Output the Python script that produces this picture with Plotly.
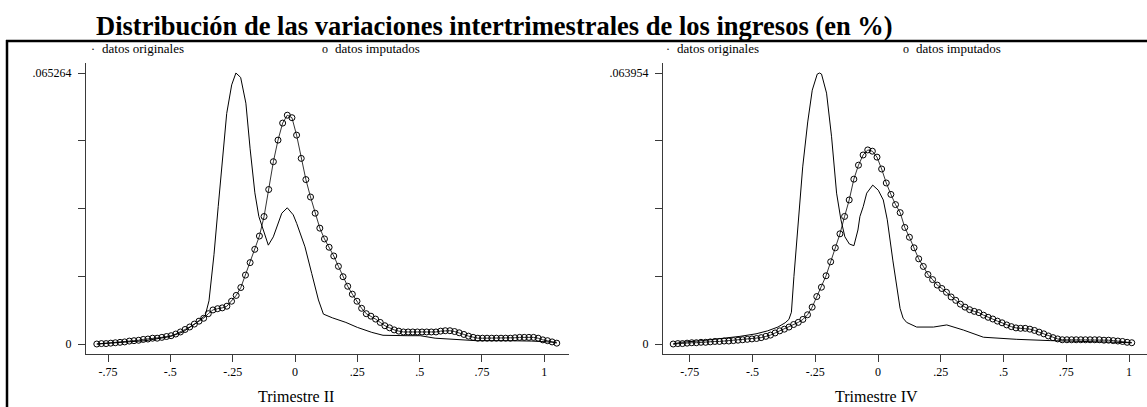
import numpy as np
import plotly.graph_objects as go

W, H = 1147, 407
SERIF = "Liberation Serif, Times New Roman, serif"

# Kernel density of quarter-on-quarter income changes (share, not %)
# --- Trimestre II ---
t2_max = 0.065264
t2_imp_range = (-0.795, 1.050)          # evaluation grid limits, 100 points
t2_imp = [0.0000, 0.0001, 0.0001, 0.0002, 0.0003, 0.0004, 0.0005, 0.0007, 0.0008, 0.0009,
          0.0011, 0.0012, 0.0014, 0.0014, 0.0016, 0.0018, 0.0020, 0.0024, 0.0029, 0.0035,
          0.0041, 0.0048, 0.0055, 0.0062, 0.0073, 0.0082, 0.0085, 0.0087, 0.0091, 0.0103,
          0.0117, 0.0136, 0.0166, 0.0196, 0.0228, 0.0260, 0.0307, 0.0372, 0.0439, 0.0491,
          0.0532, 0.0551, 0.0545, 0.0503, 0.0447, 0.0396, 0.0354, 0.0315, 0.0279, 0.0253,
          0.0233, 0.0212, 0.0187, 0.0162, 0.0139, 0.0120, 0.0103, 0.0086, 0.0073, 0.0067,
          0.0060, 0.0052, 0.0044, 0.0039, 0.0034, 0.0031, 0.0029, 0.0029, 0.0029, 0.0029,
          0.0029, 0.0029, 0.0029, 0.0029, 0.0031, 0.0032, 0.0032, 0.0030, 0.0027, 0.0023,
          0.0019, 0.0016, 0.0014, 0.0014, 0.0014, 0.0014, 0.0014, 0.0014, 0.0014, 0.0014,
          0.0015, 0.0016, 0.0016, 0.0016, 0.0016, 0.0014, 0.0010, 0.0008, 0.0005, 0.0002]
t2_orig_x = [-0.795, -0.70, -0.60, -0.50, -0.45, -0.40, -0.36, -0.345, -0.325, -0.308,
             -0.29, -0.274, -0.254, -0.237, -0.218, -0.197, -0.18, -0.161, -0.145, -0.127,
             -0.107, -0.087, -0.07, -0.053, -0.031, -0.007, 0.007, 0.025, 0.040, 0.067,
             0.094, 0.114, 0.15, 0.204, 0.25, 0.308, 0.353, 0.45, 0.502, 0.562,
             0.65, 0.727, 0.85, 0.95, 1.05]
t2_orig = [0.0000, 0.0004, 0.0008, 0.0018, 0.0029, 0.0049, 0.0069, 0.0104, 0.0215, 0.0331,
           0.0450, 0.0555, 0.0624, 0.065264, 0.0642, 0.0580, 0.0470, 0.0364, 0.0307, 0.0275,
           0.0238, 0.0258, 0.0287, 0.0315, 0.0328, 0.0311, 0.0290, 0.0261, 0.0234, 0.0170,
           0.0106, 0.0072, 0.0063, 0.0052, 0.0040, 0.0028, 0.0021, 0.0020, 0.0020, 0.0014,
           0.0011, 0.0008, 0.0008, 0.0007, 0.0004]

# --- Trimestre IV ---
t4_max = 0.063954
t4_imp_range = (-0.816, 1.011)
t4_imp = [0.0000, 0.0001, 0.0001, 0.0002, 0.0003, 0.0003, 0.0004, 0.0004, 0.0005, 0.0006,
          0.0006, 0.0007, 0.0007, 0.0008, 0.0009, 0.0010, 0.0011, 0.0012, 0.0013, 0.0015,
          0.0018, 0.0021, 0.0026, 0.0031, 0.0035, 0.0040, 0.0046, 0.0051, 0.0058, 0.0069,
          0.0087, 0.0112, 0.0134, 0.0161, 0.0194, 0.0227, 0.0260, 0.0301, 0.0340, 0.0389,
          0.0422, 0.0446, 0.0458, 0.0455, 0.0441, 0.0413, 0.0380, 0.0353, 0.0329, 0.0310,
          0.0275, 0.0252, 0.0227, 0.0201, 0.0183, 0.0164, 0.0152, 0.0139, 0.0131, 0.0122,
          0.0111, 0.0103, 0.0094, 0.0087, 0.0081, 0.0077, 0.0074, 0.0068, 0.0063, 0.0059,
          0.0054, 0.0050, 0.0045, 0.0041, 0.0038, 0.0037, 0.0037, 0.0035, 0.0032, 0.0028,
          0.0024, 0.0019, 0.0015, 0.0012, 0.0010, 0.0010, 0.0010, 0.0010, 0.0010, 0.0010,
          0.0010, 0.0010, 0.0010, 0.0009, 0.0009, 0.0008, 0.0007, 0.0006, 0.0004, 0.0003]
t4_orig_x = [-0.816, -0.784, -0.70, -0.634, -0.55, -0.486, -0.44, -0.399, -0.37, -0.355,
             -0.345, -0.335, -0.318, -0.300, -0.280, -0.262, -0.242, -0.233, -0.225, -0.205,
             -0.185, -0.165, -0.148, -0.132, -0.114, -0.096, -0.08, -0.072, -0.059, -0.045,
             -0.021, 0.001, 0.021, 0.037, 0.059, 0.075, 0.088, 0.100, 0.114, 0.154,
             0.221, 0.274, 0.340, 0.420, 0.553, 0.686, 0.82, 0.92, 1.011]
t4_orig = [0.0000, 0.0004, 0.0008, 0.0012, 0.0018, 0.0024, 0.0031, 0.0040, 0.0050, 0.0058,
           0.0075, 0.0159, 0.0293, 0.0418, 0.0524, 0.0599, 0.0637, 0.063954, 0.0637, 0.0592,
           0.0489, 0.0356, 0.0294, 0.0253, 0.0236, 0.0232, 0.0269, 0.0301, 0.0324, 0.0356,
           0.0375, 0.0363, 0.0340, 0.0293, 0.0198, 0.0135, 0.0084, 0.0061, 0.0051, 0.0040,
           0.0040, 0.0045, 0.0033, 0.0016, 0.0011, 0.0008, 0.0006, 0.0005, 0.0003]

x_ticks = [-0.75, -0.5, -0.25, 0, 0.25, 0.5, 0.75, 1]
x_tick_text = ["-.75", "-.5", "-.25", "0", ".25", ".5", ".75", "1"]
panel_titles = ["Trimestre II", "Trimestre IV"]
legend_labels = ["datos originales", "datos imputados"]
title = "Distribución de las variaciones intertrimestrales de los ingresos (en %)"


def px(x):
    return x / W


def py(y):
    return 1 - y / H


fig = go.Figure()

panels = [
    dict(imp=t2_imp, rng=t2_imp_range, ox=t2_orig_x, oy=t2_orig, ymax=t2_max,
         xa="x", ya="y", left=86, right=569, xr=[-0.8383, 1.099]),
    dict(imp=t4_imp, rng=t4_imp_range, ox=t4_orig_x, oy=t4_orig, ymax=t4_max,
         xa="x2", ya="y2", left=663, right=1147, xr=[-0.8566, 1.0717]),
]

plot_top, plot_bottom = 63, 354

for k, p in enumerate(panels):
    grid = np.linspace(p["rng"][0], p["rng"][1], len(p["imp"]))
    fig.add_trace(go.Scatter(
        x=p["ox"], y=p["oy"], mode="lines", xaxis=p["xa"], yaxis=p["ya"],
        line=dict(color="black", width=1), name=legend_labels[0], showlegend=False,
        hoverinfo="skip"))
    fig.add_trace(go.Scatter(
        x=grid, y=p["imp"], mode="lines+markers", xaxis=p["xa"], yaxis=p["ya"],
        line=dict(color="black", width=0.8),
        marker=dict(symbol="circle-open", size=6, color="black", line=dict(width=1)),
        name=legend_labels[1], showlegend=False, hoverinfo="skip"))

    m = p["ymax"]
    suffix = "" if k == 0 else "2"
    axis_common = dict(showgrid=False, zeroline=False, showline=True, linecolor="#3a3a3a",
                       linewidth=1, ticks="outside", ticklen=7, tickcolor="#3a3a3a",
                       tickwidth=1, tickfont=dict(family=SERIF, size=12, color="black"))
    fig.update_layout(**{
        "xaxis" + suffix: dict(axis_common, domain=[px(p["left"]), px(p["right"])],
                               range=p["xr"], anchor=p["ya"], tickvals=x_ticks,
                               ticktext=x_tick_text, ticklabelstandoff=0),
        "yaxis" + suffix: dict(axis_common,
                               domain=[py(plot_bottom), py(plot_top)],
                               range=[-0.0369 * m, 1.0369 * m], anchor=p["xa"],
                               tickvals=[0, m / 4, m / 2, 3 * m / 4, m],
                               ticktext=["0", "", "", "", ("%.6f" % m)[1:]],
                               ticklabelstandoff=4),
    })

annotations = [
    dict(text="<b>" + title + "</b>", x=px(94), y=py(26), xanchor="left", yanchor="middle",
         font=dict(family=SERIF, size=26.5, color="black")),
]
legend_pos = [(93, 325), (668, 906)]
for (x1, x2) in legend_pos:
    annotations.append(dict(text="·", x=px(x1), y=py(49), xanchor="center", yanchor="middle",
                            font=dict(family=SERIF, size=12, color="black")))
    annotations.append(dict(text=legend_labels[0], x=px(x1 + 7), y=py(49), xanchor="left",
                            yanchor="middle", font=dict(family=SERIF, size=13, color="black")))
    annotations.append(dict(text="o", x=px(x2), y=py(49), xanchor="center", yanchor="middle",
                            font=dict(family=SERIF, size=12, color="black")))
    annotations.append(dict(text=legend_labels[1], x=px(x2 + 8), y=py(49), xanchor="left",
                            yanchor="middle", font=dict(family=SERIF, size=13, color="black")))
for xc, t in zip([296, 876], panel_titles):
    annotations.append(dict(text=t, x=px(xc), y=py(396), xanchor="center", yanchor="middle",
                            font=dict(family=SERIF, size=16, color="black")))
for a in annotations:
    a.update(xref="paper", yref="paper", showarrow=False)

shapes = [
    dict(type="line", xref="paper", yref="paper", x0=px(6), x1=1, y0=py(41), y1=py(41),
         line=dict(color="black", width=2.5)),
    dict(type="line", xref="paper", yref="paper", x0=px(7), x1=px(7), y0=py(40), y1=0,
         line=dict(color="black", width=2.5)),
]

fig.update_layout(width=W, height=H, margin=dict(l=0, r=0, t=0, b=0, pad=0),
                  paper_bgcolor="white", plot_bgcolor="white",
                  annotations=annotations, shapes=shapes, showlegend=False)

fig.write_html("out.html", config={"displayModeBar": False})
